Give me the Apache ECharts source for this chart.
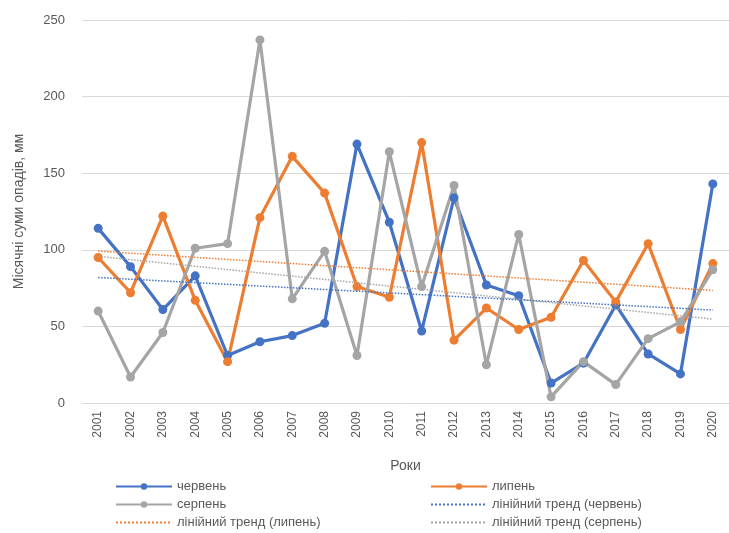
<!DOCTYPE html>
<html><head><meta charset="utf-8">
<script src="https://cdn.jsdelivr.net/npm/echarts@6/dist/echarts.min.js"></script>
<style>html,body{margin:0;padding:0;background:#fff}#c{width:729px;height:533px}</style>
</head><body><div id="c"></div>
<script>
const years = ['2001','2002','2003','2004','2005','2006','2007','2008','2009','2010','2011','2012','2013','2014','2015','2016','2017','2018','2019','2020'];
const june   = [114, 89, 61, 83, 31, 40, 44, 52, 169, 118, 47, 134, 77, 70, 13, 26, 64, 32, 19, 143];
const july   = [95, 72, 122, 67, 27, 121, 161, 137, 76, 69, 170, 41, 62, 48, 56, 93, 66, 104, 48, 91];
const august = [60, 17, 46, 101, 104, 237, 68, 99, 31, 164, 76, 142, 25, 110, 4, 27, 12, 42, 53, 87];
const yTicks = [0, 50, 100, 150, 200, 250];

function trend(arr){
  const n = arr.length; let sx=0, sy=0, sxy=0, sxx=0;
  arr.forEach((v,i)=>{const x=i+1; sx+=x; sy+=v; sxy+=x*v; sxx+=x*x;});
  const b=(n*sxy-sx*sy)/(n*sxx-sx*sx); const a=(sy-b*sx)/n;
  return arr.map((v,i)=>+(a+b*(i+1)).toFixed(2));
}
const BLUE='#4472C4', ORANGE='#ED7D31', GRAY='#A5A5A5';
const FONT='Liberation Sans';
const main = (name,data,color)=>({name,type:'line',data,symbol:'circle',symbolSize:9,
  itemStyle:{color},lineStyle:{color,width:3.2},z:3});
const tr = (name,data,color)=>({name,type:'line',data,symbol:'none',
  itemStyle:{color},lineStyle:{color,width:1.5,type:'dotted'},z:4,silent:true});
const legendCommon = {orient:'vertical',itemWidth:56,itemHeight:8,itemGap:5,padding:0,height:60,
  textStyle:{color:'#595959',fontSize:13,fontFamily:FONT,lineHeight:13}};
const trendItem = n => ({name:n,itemStyle:{opacity:0}});
const chart = echarts.init(document.getElementById('c'));
chart.setOption({
  animation:false,
  grid:{left:82,top:20,width:656,height:383},
  xAxis:{type:'category',data:years,boundaryGap:true,
    name:'Роки',nameLocation:'middle',nameGap:56,
    nameTextStyle:{color:'#595959',fontSize:14,fontFamily:FONT},
    axisLine:{lineStyle:{color:'#d9d9d9'}},axisTick:{show:false},
    axisLabel:{rotate:90,color:'#595959',fontSize:12,fontFamily:FONT,margin:8}},
  yAxis:{type:'value',min:0,max:250,interval:50,
    name:'Місячні суми опадів, мм',nameLocation:'middle',nameGap:56,nameRotate:90,
    nameTextStyle:{color:'#595959',fontSize:14,fontFamily:FONT},
    axisLine:{show:false},axisTick:{show:false},
    axisLabel:{color:'#595959',fontSize:13,fontFamily:FONT,margin:17,
      formatter:v=>yTicks.includes(v)?String(v):''},
    splitLine:{lineStyle:{color:'#d9d9d9'}}},
  legend:[
    Object.assign({left:115,top:480,data:['червень','серпень',trendItem('лінійний тренд (липень)')]},legendCommon),
    Object.assign({left:430,top:480,data:['липень',trendItem('лінійний тренд (червень)'),trendItem('лінійний тренд (серпень)')]},legendCommon)
  ],
  series:[
    main('червень',june,BLUE),
    main('липень',july,ORANGE),
    main('серпень',august,GRAY),
    tr('лінійний тренд (червень)',trend(june),BLUE),
    tr('лінійний тренд (липень)',trend(july),ORANGE),
    tr('лінійний тренд (серпень)',trend(august),GRAY)
  ]
});
</script></body></html>
